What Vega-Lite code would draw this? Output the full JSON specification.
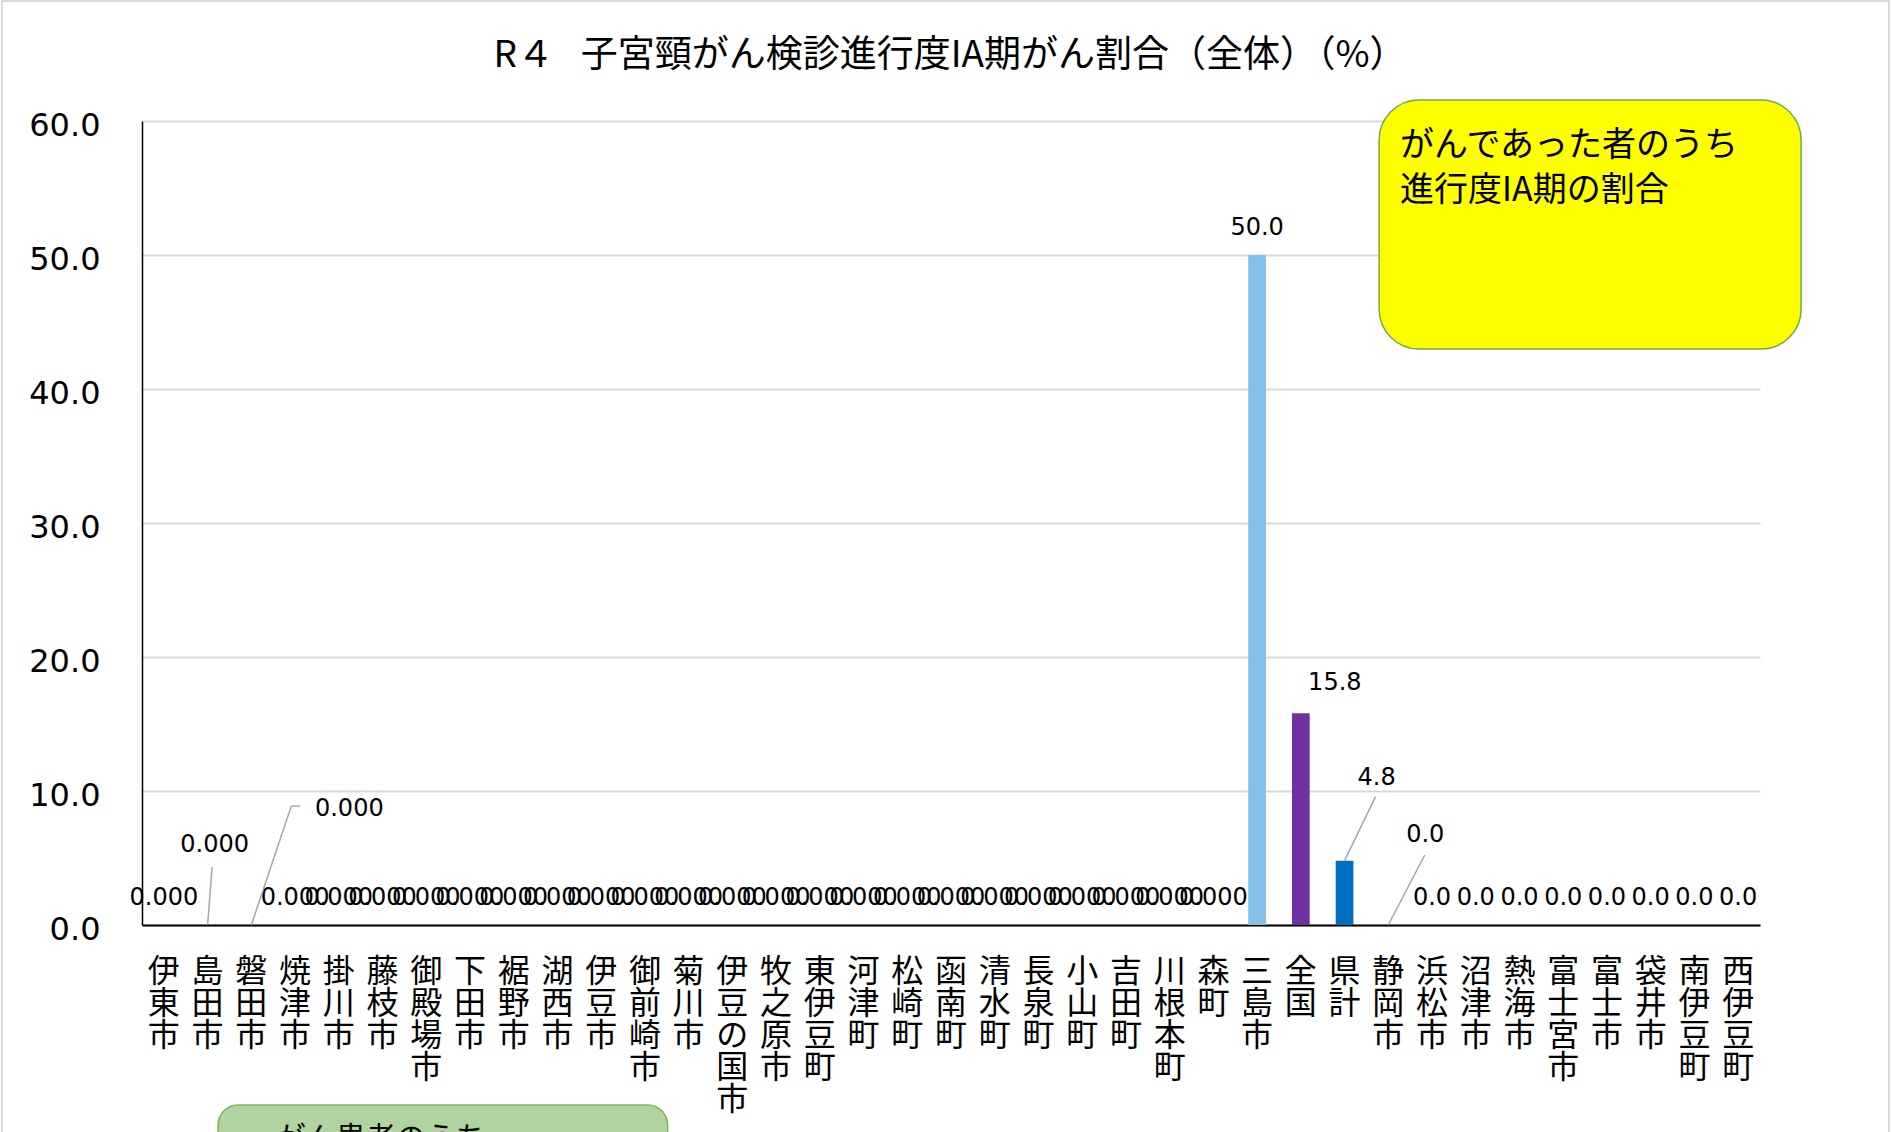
{
  "$schema": "https://vega.github.io/schema/vega-lite/v6.json",
  "width": 1618,
  "height": 804,
  "autosize": {"type": "none"},
  "padding": {"left": 142, "top": 121, "right": 133, "bottom": 207},
  "background": "white",
  "config": {"view": {"stroke": null}, "font": "Noto Sans CJK JP"},
  "title": {
    "text": "R４\u2002 子宮頸がん検診進行度IA期がん割合（全体）（%）",
    "font": "Noto Sans CJK JP",
    "fontSize": 37,
    "fontWeight": "normal",
    "color": "#000000",
    "anchor": "middle",
    "frame": "group",
    "baseline": "bottom",
    "dx": -1,
    "offset": -112
  },
  "datasets": {
    "cities": [
      {"name": "伊東市", "value": 0},
      {"name": "島田市", "value": 0},
      {"name": "磐田市", "value": 0},
      {"name": "焼津市", "value": 0},
      {"name": "掛川市", "value": 0},
      {"name": "藤枝市", "value": 0},
      {"name": "御殿場市", "value": 0},
      {"name": "下田市", "value": 0},
      {"name": "裾野市", "value": 0},
      {"name": "湖西市", "value": 0},
      {"name": "伊豆市", "value": 0},
      {"name": "御前崎市", "value": 0},
      {"name": "菊川市", "value": 0},
      {"name": "伊豆の国市", "value": 0},
      {"name": "牧之原市", "value": 0},
      {"name": "東伊豆町", "value": 0},
      {"name": "河津町", "value": 0},
      {"name": "松崎町", "value": 0},
      {"name": "函南町", "value": 0},
      {"name": "清水町", "value": 0},
      {"name": "長泉町", "value": 0},
      {"name": "小山町", "value": 0},
      {"name": "吉田町", "value": 0},
      {"name": "川根本町", "value": 0},
      {"name": "森町", "value": 0},
      {"name": "三島市", "value": 50.0},
      {"name": "全国", "value": 15.8},
      {"name": "県計", "value": 4.8},
      {"name": "静岡市", "value": 0},
      {"name": "浜松市", "value": 0},
      {"name": "沼津市", "value": 0},
      {"name": "熱海市", "value": 0},
      {"name": "富士宮市", "value": 0},
      {"name": "富士市", "value": 0},
      {"name": "袋井市", "value": 0},
      {"name": "南伊豆町", "value": 0},
      {"name": "西伊豆町", "value": 0}
    ]
  },
  "layer": [
    {
      "data": {"name": "cities"},
      "encoding": {
        "x": {
          "field": "name",
          "type": "nominal",
          "sort": null,
          "scale": {"paddingInner": 0.595, "paddingOuter": 0.2975},
          "axis": {
            "title": null,
            "labelAngle": 0,
            "labelFont": "Noto Sans CJK JP",
            "labelFontSize": 32,
            "labelLineHeight": 32,
            "labelExpr": "split(datum.label, '')",
            "labelBaseline": "top",
            "labelPadding": 31,
            "labelColor": "#000000",
            "labelOverlap": false,
            "labelBound": false,
            "labelFlush": false,
            "labelLimit": 0,
            "ticks": false,
            "grid": false,
            "domainColor": "#000000",
            "domainWidth": 2
          }
        },
        "y": {
          "field": "value",
          "type": "quantitative",
          "scale": {"domain": [0, 60], "nice": false},
          "axis": {
            "title": null,
            "values": [0, 10, 20, 30, 40, 50, 60],
            "format": ".1f",
            "labelFont": "DejaVu Sans",
            "labelFontSize": 32,
            "labelColor": "#000000",
            "labelPadding": 42,
            "labelOffset": 4,
            "labelFlush": false,
            "ticks": false,
            "domainColor": "#000000",
            "domainWidth": 1.5,
            "gridColor": "#D9D9D9",
            "gridWidth": 2
          }
        }
      },
      "layer": [
        {
          "mark": {"type": "bar"},
          "encoding": {
            "color": {
              "field": "name",
              "type": "nominal",
              "scale": {"domain": ["三島市", "全国", "県計"], "range": ["#85C0E9", "#7030A0", "#0070C0"]},
              "legend": null
            }
          }
        },
        {
          "transform": [{"filter": {"field": "name", "oneOf": ["伊東市", "焼津市", "掛川市", "藤枝市", "御殿場市", "下田市", "裾野市", "湖西市", "伊豆市", "御前崎市", "菊川市", "伊豆の国市", "牧之原市", "東伊豆町", "河津町", "松崎町", "函南町", "清水町", "長泉町", "小山町", "吉田町", "川根本町", "森町"]}}],
          "mark": {"type": "text", "font": "DejaVu Sans", "fontSize": 24, "color": "#000000", "baseline": "middle", "dy": -27},
          "encoding": {"text": {"field": "value", "format": ".3f"}}
        },
        {
          "transform": [{"filter": {"field": "name", "equal": "島田市"}}],
          "mark": {"type": "text", "font": "DejaVu Sans", "fontSize": 24, "color": "#000000", "baseline": "middle", "dx": 7, "dy": -80},
          "encoding": {"text": {"field": "value", "format": ".3f"}}
        },
        {
          "transform": [{"filter": {"field": "name", "equal": "磐田市"}}],
          "mark": {"type": "text", "font": "DejaVu Sans", "fontSize": 24, "color": "#000000", "baseline": "middle", "dx": 98, "dy": -116},
          "encoding": {"text": {"field": "value", "format": ".3f"}}
        },
        {
          "transform": [{"filter": {"field": "name", "oneOf": ["三島市", "浜松市", "沼津市", "熱海市", "富士宮市", "富士市", "袋井市", "南伊豆町", "西伊豆町"]}}],
          "mark": {"type": "text", "font": "DejaVu Sans", "fontSize": 24, "color": "#000000", "baseline": "middle", "dy": -27},
          "encoding": {"text": {"field": "value", "format": ".1f"}}
        },
        {
          "transform": [{"filter": {"field": "name", "equal": "全国"}}],
          "mark": {"type": "text", "font": "DejaVu Sans", "fontSize": 24, "color": "#000000", "baseline": "middle", "dx": 34, "dy": -30},
          "encoding": {"text": {"field": "value", "format": ".1f"}}
        },
        {
          "transform": [{"filter": {"field": "name", "equal": "県計"}}],
          "mark": {"type": "text", "font": "DejaVu Sans", "fontSize": 24, "color": "#000000", "baseline": "middle", "dx": 32, "dy": -83},
          "encoding": {"text": {"field": "value", "format": ".1f"}}
        },
        {
          "transform": [{"filter": {"field": "name", "equal": "静岡市"}}],
          "mark": {"type": "text", "font": "DejaVu Sans", "fontSize": 24, "color": "#000000", "baseline": "middle", "dx": 37, "dy": -90},
          "encoding": {"text": {"field": "value", "format": ".1f"}}
        },
        {
          "transform": [{"filter": {"field": "name", "equal": "島田市"}}],
          "mark": {"type": "rule", "color": "#A6A6A6", "strokeWidth": 1.5, "x2Offset": 4.5, "y2Offset": -58},
          "encoding": {"x2": {"field": "name"}, "y2": {"field": "value"}}
        },
        {
          "transform": [{"filter": {"field": "name", "equal": "磐田市"}}],
          "mark": {"type": "rule", "color": "#A6A6A6", "strokeWidth": 1.5, "x2Offset": 40, "y2Offset": -119},
          "encoding": {"x2": {"field": "name"}, "y2": {"field": "value"}}
        },
        {
          "transform": [{"filter": {"field": "name", "equal": "磐田市"}}],
          "mark": {"type": "rule", "color": "#A6A6A6", "strokeWidth": 1.5, "xOffset": 40, "yOffset": -119, "x2Offset": 49, "y2Offset": -119},
          "encoding": {"x2": {"field": "name"}, "y2": {"field": "value"}}
        },
        {
          "transform": [{"filter": {"field": "name", "equal": "県計"}}],
          "mark": {"type": "rule", "color": "#A6A6A6", "strokeWidth": 1.5, "x2Offset": 31, "y2Offset": -64},
          "encoding": {"x2": {"field": "name"}, "y2": {"field": "value"}}
        },
        {
          "transform": [{"filter": {"field": "name", "equal": "静岡市"}}],
          "mark": {"type": "rule", "color": "#A6A6A6", "strokeWidth": 1.5, "x2Offset": 36.5, "y2Offset": -70},
          "encoding": {"x2": {"field": "name"}, "y2": {"field": "value"}}
        }
      ]
    },
    {
      "data": {"values": [{"note1": "がんであった者のうち\n進行度IA期の割合", "note2": "がん患者のうち"}]},
      "layer": [
        {
          "mark": {"type": "rect", "fill": null, "fillOpacity": 0, "stroke": "#D9D9D9", "strokeWidth": 2},
          "encoding": {
            "x": {"datum": -3.2, "type": "quantitative", "scale": {"domain": [0, 37], "nice": false, "zero": false}, "axis": null},
            "x2": {"datum": 39.95},
            "y": {"datum": 68.96, "type": "quantitative"},
            "y2": {"datum": -30}
          }
        },
        {
          "mark": {"type": "rect", "fill": "#FFFF00", "stroke": "#70AD47", "strokeWidth": 1.5, "cornerRadius": 40},
          "encoding": {
            "x": {"datum": 28.29, "type": "quantitative", "scale": {"domain": [0, 37], "nice": false, "zero": false}, "axis": null},
            "x2": {"datum": 37.94},
            "y": {"datum": 61.57, "type": "quantitative"},
            "y2": {"datum": 42.99}
          }
        },
        {
          "mark": {"type": "text", "font": "Noto Sans CJK JP", "fontSize": 34, "color": "#000000", "align": "left", "baseline": "top", "lineHeight": 45, "lineBreak": "\n"},
          "encoding": {
            "x": {"datum": 28.77, "type": "quantitative", "scale": {"domain": [0, 37], "nice": false, "zero": false}, "axis": null},
            "y": {"datum": 59.4, "type": "quantitative"},
            "text": {"field": "note1"}
          }
        },
        {
          "mark": {"type": "rect", "fill": "#B1D3A0", "stroke": "#7DB55A", "strokeWidth": 1.5, "cornerRadius": 20},
          "encoding": {
            "x": {"datum": 1.74, "type": "quantitative", "scale": {"domain": [0, 37], "nice": false, "zero": false}, "axis": null},
            "x2": {"datum": 12.02},
            "y": {"datum": -13.43, "type": "quantitative"},
            "y2": {"datum": -30}
          }
        },
        {
          "mark": {"type": "text", "font": "Noto Sans CJK JP", "fontSize": 30, "color": "#000000", "align": "left", "baseline": "top"},
          "encoding": {
            "x": {"datum": 3.06, "type": "quantitative", "scale": {"domain": [0, 37], "nice": false, "zero": false}, "axis": null},
            "y": {"datum": -14.85, "type": "quantitative"},
            "text": {"field": "note2"}
          }
        }
      ]
    }
  ],
  "resolve": {"scale": {"x": "independent"}}
}
